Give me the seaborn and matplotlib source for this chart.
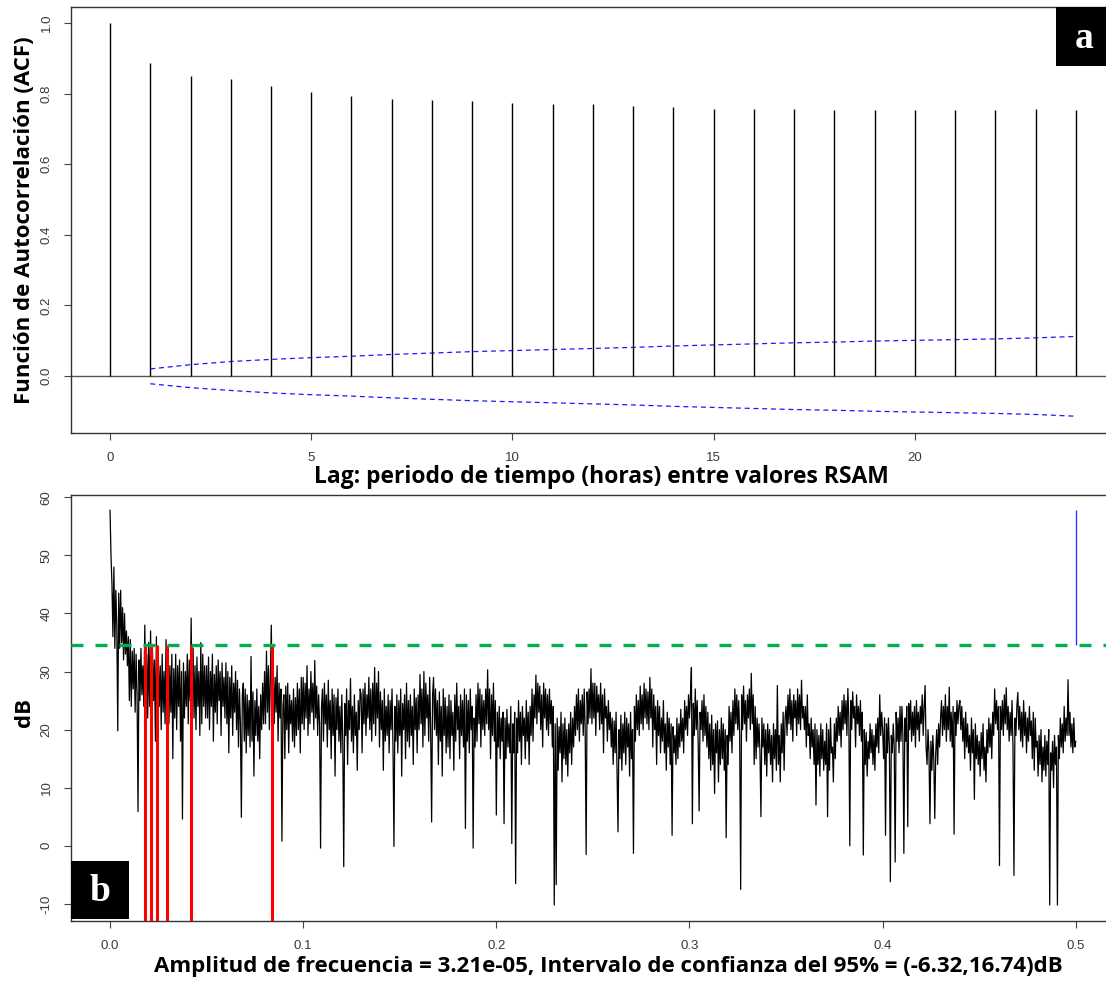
import numpy as np
import pandas as pd
import matplotlib
matplotlib.use("Agg")
import matplotlib.pyplot as plt
import seaborn as sns
from matplotlib.patches import Rectangle

# ---------------- Panel a: autocorrelation ----------------
lags = list(range(25))
acf_vals = [1.000, 0.888, 0.850, 0.840, 0.822, 0.805, 0.793, 0.786, 0.782, 0.779,
            0.773, 0.771, 0.771, 0.765, 0.762, 0.756, 0.755, 0.755, 0.754, 0.754,
            0.754, 0.754, 0.754, 0.755, 0.754]
ci_lags = list(range(1, 25))
ci_upper = [0.020, 0.032, 0.041, 0.047, 0.052, 0.056, 0.061, 0.065, 0.069, 0.072,
            0.075, 0.078, 0.081, 0.085, 0.088, 0.091, 0.094, 0.096, 0.099, 0.101,
            0.103, 0.105, 0.108, 0.112]
ci_lower = [-0.022, -0.033, -0.041, -0.048, -0.053, -0.057, -0.062, -0.066, -0.070, -0.073,
            -0.076, -0.079, -0.082, -0.086, -0.089, -0.092, -0.095, -0.097, -0.100, -0.102,
            -0.104, -0.106, -0.109, -0.114]
acf_xticks = [0, 5, 10, 15, 20]
acf_yticks = [0.0, 0.2, 0.4, 0.6, 0.8, 1.0]
acf_yticklabels = ["0.0", "0.2", "0.4", "0.6", "0.8", "1.0"]

# ---------------- Panel b: spectrum (dB), one value every 0.0005 ----------------
spec_0_01 = [
    57.8, 50.0, 45.0, 36.0, 48.0, 34.0, 44.0, 38.0, 19.8, 43.5, 34.0, 44.0, 35.0, 41.0, 32.0, 40.0, 33.0, 37.0, 31.0, 36.0,
    25.0, 35.5, 24.0, 33.5, 27.0, 34.0, 23.0, 33.0, 26.0, 5.9, 32.0, 25.0, 34.0, 26.0, 31.0, 24.0, 38.0, 27.0, 33.0, 22.0,
    35.0, 24.0, 37.0, 21.0, 33.5, 25.0, 32.0, 18.0, 36.0, 17.0, 32.0, 24.0, 31.0, 20.0, 33.0, 23.0, 30.0, 21.0, 35.5, 22.0,
    32.5, 21.0, 31.0, 23.0, 33.0, 15.0, 30.5, 22.0, 33.0, 20.0, 31.0, 24.0, 32.0, 18.0, 30.0, 4.6, 31.5, 22.0, 30.0, 24.0,
    33.0, 21.0, 32.0, 25.0, 39.2, 23.0, 34.0, 22.0, 31.0, 20.0, 32.5, 24.0, 30.0, 19.0, 35.0, 21.0, 33.0, 24.0, 31.0, 22.0,
    31.0, 22.0, 32.5, 20.0, 30.0, 24.0, 33.0, 18.0, 29.5, 23.0, 31.0, 21.0, 32.0, 25.0, 30.0, 19.0, 31.5, 24.0, 29.0, 22.0,
    31.5, 21.0, 30.0, 16.0, 29.0, 22.0, 31.0, 19.0, 28.0, 23.0, 30.0, 20.0, 28.5, 17.0, 27.0, 21.0, 4.9, 26.0, 28.0, 18.0,
    27.0, 16.0, 26.0, 19.0, 25.0, 17.0, 32.6, 18.0, 26.5, 12.0, 25.0, 19.0, 27.0, 18.0, 24.0, 15.0, 26.0, 20.0, 28.0, 21.0,
    30.0, 21.0, 33.5, 23.0, 31.0, 20.0, 29.0, 38.0, 24.0, 30.5, 21.0, 29.0, 23.0, 31.0, 18.0, 28.0, 22.0, 27.0, 0.8, 24.0,
    26.0, 15.0, 27.5, 20.0, 28.0, 16.0, 26.0, 21.0, 25.0, 18.0, 27.0, 17.0, 25.5, 19.0, 28.0, 20.0, 27.0, 16.0, 29.0, 21.0,
]
spec_01_02 = [
    29.0, 20.0, 28.0, 22.0, 31.0, 19.0, 27.0, 21.0, 30.0, 23.0, 28.0, 20.0, 31.9, 22.0, 27.5, 19.0, 26.0, 21.0, -0.4, 24.0,
    27.0, 18.0, 28.0, 21.0, 26.0, 17.0, 28.5, 20.0, 25.0, 15.0, 27.0, 19.0, 26.0, 12.0, 25.5, 20.0, 27.0, 18.0, 24.0, 16.0,
    26.0, 18.0, -3.6, 24.5, 19.0, 27.0, 14.0, 25.0, 20.0, 28.8, 18.0, 24.0, 16.0, 26.0, 19.0, 23.0, 13.0, 25.0, 20.0, 27.0,
    26.0, 16.0, 27.0, 21.0, 28.0, 19.0, 26.0, 22.0, 29.0, 20.0, 27.0, 18.0, 28.0, 21.0, 30.7, 19.0, 28.0, 22.0, 30.0, 17.0,
    26.5, 20.0, 25.0, 13.0, 27.0, 18.0, 24.0, 19.0, 26.0, 16.0, 25.0, 20.0, 27.0, 17.0, -0.1, 24.0, 18.0, 26.0, 16.0, 25.0,
    19.0, 27.0, 12.0, 24.5, 20.0, 26.0, 15.0, 28.0, 18.0, 25.0, 17.0, 26.0, 19.0, 24.0, 14.0, 27.0, 20.0, 25.5, 16.0, 26.0,
    20.0, 29.5, 21.0, 27.0, 17.0, 30.0, 19.0, 28.0, 22.0, 26.0, 18.0, 29.0, 20.0, 4.1, 26.0, 29.0, 20.0, 27.0, 19.0, 25.0,
    14.0, 26.5, 18.0, 24.0, 12.0, 27.0, 19.0, 25.5, 16.0, 24.0, 17.0, 26.0, 15.0, 25.0, 19.0, 23.0, 13.0, 26.0, 18.0, 28.0,
    20.0, 24.0, 15.0, 26.0, 19.0, 25.0, 17.0, 27.0, 3.0, 26.0, 18.0, 25.0, 16.0, 27.0, 20.0, 24.0, -0.4, 22.0, 17.0, 26.0,
    18.0, 28.0, 21.0, 27.0, 17.0, 26.0, 20.0, 25.0, 19.0, 27.0, 21.0, 30.3, 20.0, 27.0, 15.0, 26.0, 19.0, 28.0, 18.0, 25.0,
]
spec_02_03 = [
    5.3, 23.0, 17.0, 24.0, 15.0, 22.0, 18.0, 23.0, 3.8, 22.0, 15.0, 23.5, 17.0, 21.0, 16.0, 24.0, 0.4, 21.0, 16.0, 23.0,
    -6.5, 22.0, 16.0, 25.0, 18.0, 23.0, 14.0, 24.0, 19.0, 22.0, 15.0, 25.0, 18.0, 23.0, 14.0, 24.0, 19.0, 27.0, 18.0, 26.0,
    22.0, 29.4, 21.0, 28.0, 23.0, 27.5, 20.0, 26.0, 17.0, 28.0, 22.0, 27.0, 20.0, 26.0, 19.0, 27.0, 21.0, 25.0, 17.0, 24.0,
    -10.2, 21.0, -6.7, 22.0, 13.0, 20.5, 16.0, 23.0, 11.0, 21.0, 15.0, 22.0, 14.0, 20.0, 12.0, 21.0, 16.0, 23.0, 14.0, 22.0,
    17.0, 24.0, 19.0, 26.0, 20.0, 27.0, 18.0, 25.0, 21.0, 26.0, 19.0, 27.0, 20.0, -1.5, 26.5, 21.0, 27.0, 22.0, 30.5, 21.0,
    28.0, 22.0, 28.0, 19.0, 27.5, 23.0, 26.0, 20.0, 28.0, 21.0, 26.0, 16.0, 27.0, 22.0, 24.0, 18.0, 25.0, 20.0, 23.0, 17.0,
    22.0, 14.0, 21.5, 16.0, 23.0, 13.0, 2.4, 20.0, 15.0, 22.5, 13.0, 21.0, 16.0, 23.0, 14.0, 22.0, 17.0, 21.0, 12.0, 23.0,
    15.0, 20.0, -1.3, 24.0, 18.0, 26.0, 20.0, 25.0, 19.0, 27.5, 21.0, 26.0, 20.0, 28.0, 22.0, 27.0, 21.0, 26.5, 20.0, 29.0,
    22.0, 27.0, 17.0, 26.0, 20.0, 24.0, 14.0, 25.0, 19.0, 24.0, 16.0, 22.0, 18.0, 25.0, 16.0, 21.0, 13.0, 23.0, 17.0, 22.0,
    14.0, 21.0, 1.8, 20.5, 16.0, 19.0, 14.0, 22.0, 15.0, 21.0, 17.0, 23.5, 18.0, 22.0, 16.0, 25.0, 20.0, 24.0, 19.0, 26.0,
]
spec_03_04 = [
    22.0, 26.0, 30.7, 3.8, 24.5, 19.0, 27.0, 20.0, 25.0, 18.0, 6.0, 23.0, 20.0, 25.0, 18.0, 26.0, 19.0, 24.0, 17.0, 23.0,
    15.0, 21.0, 13.0, 22.5, 14.0, 20.0, 9.0, 21.0, 16.0, 21.5, 11.0, 20.0, 14.0, 22.0, 15.0, 21.0, 13.0, 20.0, 1.4, 19.0,
    14.0, 24.0, 18.0, 23.0, 16.0, 25.0, 19.0, 27.0, 21.0, 26.0, 20.0, 25.0, 19.0, -7.5, 26.0, 20.0, 27.5, 21.0, 25.0, 18.0,
    26.0, 22.0, 27.0, 20.0, 29.7, 21.0, 26.0, 14.0, 24.0, 15.0, 22.0, 17.0, 21.0, 16.0, 5.0, 22.0, 17.0, 21.0, 14.0, 20.0,
    12.0, 21.0, 16.0, 20.0, 14.0, 19.0, 11.0, 21.0, 15.0, 20.0, 13.0, 27.6, 14.0, 19.0, 11.0, 21.0, 16.0, 23.0, 13.0, 22.0,
    24.0, 19.0, 26.0, 21.0, 27.0, 20.0, 25.0, 18.0, 26.0, 22.0, 25.0, 19.0, 27.0, 21.0, 26.0, 20.0, 28.5, 22.0, 24.0, 20.0,
    24.0, 17.0, 26.0, 19.0, 21.0, 15.0, 22.0, 17.0, 20.0, 14.0, 21.0, 7.0, 20.0, 14.0, 19.0, 12.0, 21.0, 15.0, 20.0, 13.0,
    18.0, 14.0, 21.0, 5.0, 20.0, 13.0, 22.0, 16.0, 17.0, 11.0, 21.0, 15.0, 22.0, 18.0, 24.0, 19.0, 23.0, 17.0, 25.0, 20.0,
    26.0, 21.0, 25.0, 19.0, 27.1, 22.0, 0.0, 25.0, 20.0, 26.5, 22.0, 24.0, 17.0, 26.0, 21.0, 24.0, 19.0, 25.0, 18.0, 23.0,
    -1.6, 20.0, 14.0, 19.5, 12.0, 18.0, 15.0, 21.0, 16.0, 20.0, 14.0, 19.0, 13.0, 21.0, 17.0, 22.0, 16.0, 26.0, 19.0, 23.0,
]
spec_04_05 = [
    20.0, 15.0, 22.0, 1.8, 21.0, 16.0, 22.0, 17.0, -6.2, 19.0, 16.0, 21.0, 17.0, -2.8, 23.0, 18.0, 22.0, 16.0, 24.0, 18.0,
    24.0, 19.0, -1.3, 22.0, 18.0, 24.0, 3.3, 24.5, 20.0, 25.0, 18.0, 23.0, 19.0, 24.0, 17.0, 25.0, 20.0, 23.0, 18.0, 24.0,
    21.0, 26.0, 19.0, 24.0, 27.6, 17.0, 14.0, 20.0, 16.0, 3.8, 18.0, 13.0, 19.0, 15.0, 4.7, 16.0, 20.0, 14.0, 21.0, 17.0,
    22.0, 25.0, 19.0, 24.0, 20.0, 26.0, 18.0, 24.0, 20.0, 27.3, 18.0, 23.0, 17.0, 24.0, 2.0, 23.0, 19.0, 25.0, 21.0, 24.0,
    25.0, 20.0, 24.0, 18.0, 22.0, 15.0, 23.0, 17.0, 21.0, 16.0, 19.0, 13.0, 22.0, 16.0, 20.0, 8.0, 21.0, 15.0, 19.0, 14.0,
    18.0, 12.0, 19.5, 15.0, 21.0, 13.0, 17.0, 11.0, 20.0, 16.0, 22.0, 17.0, 21.0, 15.0, 23.0, 19.0, 27.0, 21.0, 25.0, 20.0,
    24.0, -3.4, 24.0, 20.0, 25.0, 19.0, 26.0, 21.0, 27.2, 20.0, 24.0, 18.0, 23.0, 19.0, 25.0, 17.0, -5.1, 22.0, 19.0, 24.0,
    26.4, 20.0, 24.0, 18.0, 23.0, 17.0, 25.0, 19.0, 23.0, 16.0, 22.0, 18.0, 24.0, 19.0, 21.5, 15.0, 23.0, 13.0, 22.0, 17.0,
    18.0, 12.0, 19.0, 14.0, 20.0, 11.0, 17.0, 13.0, 19.0, 12.0, 18.0, 14.0, 20.0, -10.2, 16.0, 13.0, 18.0, 10.0, 19.0, 14.0,
    17.0, -10.2, 19.0, 15.0, 22.0, 17.0, 21.0, 16.0, 24.0, 18.0, 22.0, 19.0, 28.6, 19.0, 23.0, 17.0, 21.0, 16.0, 22.0, 17.0,
    18.0,
]
spec_db = spec_0_01 + spec_01_02 + spec_02_03 + spec_03_04 + spec_04_05
freqs = np.linspace(0.0, 0.5, len(spec_db))

sig_level = 34.6
red_freqs = [0.0183, 0.0213, 0.0242, 0.0295, 0.0418, 0.0836]
nyq_freq = 0.5
nyq_peak = 57.8
spec_xticks = [0.0, 0.1, 0.2, 0.3, 0.4, 0.5]
spec_xticklabels = ["0.0", "0.1", "0.2", "0.3", "0.4", "0.5"]
spec_yticks = [-10, 0, 10, 20, 30, 40, 50, 60]

# ---------------- Figure ----------------
sns.set_style("white")
plt.rcParams["font.family"] = ["Liberation Sans", "DejaVu Sans"]

W, H = 1106, 988
fig = plt.figure(figsize=(W / 100, H / 100), dpi=100)
ax_left = 71.4 / W
ax_w = 1043 / W
axa = fig.add_axes([ax_left, 1 - 433 / H, ax_w, 426 / H])
axb = fig.add_axes([ax_left, 1 - 921 / H, ax_w, 426 / H])

label_family = ["Open Sans", "DejaVu Sans"]
tick_color = "#3a3a3a"

# Panel a
axa.vlines(lags, 0, acf_vals, color="black", lw=1.0, zorder=3)
axa.axhline(0, color="#555555", lw=1.0, zorder=2)
ci_df = pd.DataFrame({"lag": ci_lags, "upper": ci_upper, "lower": ci_lower})
sns.lineplot(data=ci_df, x="lag", y="upper", ax=axa, color="#1a1aff", lw=0.9,
             linestyle=(0, (4, 3)), estimator=None, sort=False)
sns.lineplot(data=ci_df, x="lag", y="lower", ax=axa, color="#1a1aff", lw=0.9,
             linestyle=(0, (4, 3)), estimator=None, sort=False)
axa.set_xlim(-0.96, 24.96)
axa.set_ylim(-0.1615, 1.0453)
axa.set_xticks(acf_xticks)
axa.set_xticklabels([str(t) for t in acf_xticks])
axa.set_yticks(acf_yticks)
axa.set_yticklabels(acf_yticklabels, rotation=90, va="center")
axa.set_xlabel("Lag: periodo de tiempo (horas) entre valores RSAM",
               family=label_family, fontweight="bold", fontsize=16.5, color="black")
axa.set_ylabel("Función de Autocorrelación (ACF)",
               family=label_family, fontweight="bold", fontsize=16, color="black")
axa.yaxis.set_label_coords(-0.035, 0.5)
axa.xaxis.set_label_coords(0.5078, -0.076)

# Panel b
spec_df = pd.DataFrame({"freq": freqs, "db": spec_db})
sns.lineplot(data=spec_df, x="freq", y="db", ax=axb, color="black", lw=0.9,
             estimator=None, sort=False, zorder=2)
ylo, yhi = -12.95, 60.40
axb.axhline(sig_level, color="#00B050", lw=2.4, linestyle=(0, (3.6, 3.6)), zorder=4)
axb.vlines(red_freqs, ylo, sig_level, color="#FF0000", lw=2.2, zorder=3)
axb.vlines([nyq_freq], sig_level, nyq_peak, color="#3333FF", lw=1.0, zorder=3)
axb.set_xlim(-0.02, 0.52)
axb.set_ylim(ylo, yhi)
axb.set_xticks(spec_xticks)
axb.set_xticklabels(spec_xticklabels)
axb.set_yticks(spec_yticks)
axb.set_yticklabels([str(t) for t in spec_yticks], rotation=90, va="center")
axb.set_xlabel("Amplitud de frecuencia = 3.21e-05, Intervalo de confianza del 95% = (-6.32,16.74)dB",
               family=label_family, fontweight="bold", fontsize=16, color="black")
axb.set_ylabel("dB", family=label_family, fontweight="bold", fontsize=16, color="black")
axb.yaxis.set_label_coords(-0.035, 0.49)
axb.xaxis.set_label_coords(0.5145, -0.081)

for ax in (axa, axb):
    for sp in ax.spines.values():
        sp.set_color("#333333")
        sp.set_linewidth(1.0)
        sp.set_visible(True)
    ax.tick_params(axis="both", which="major", direction="out", length=5, width=0.8,
                   color="#444444", labelsize=9.5, labelcolor=tick_color, pad=8.5,
                   bottom=True, left=True)
    ax.grid(False)

# panel tags
fig.patches.append(Rectangle((1056 / W, 1 - 65.5 / H), 52 / W, 58.5 / H,
                             transform=fig.transFigure, facecolor="black", edgecolor="none", zorder=10))
fig.text(1084 / W, 1 - 38 / H, "a", color="white", fontweight="bold",
         family=["Liberation Serif", "DejaVu Serif"], fontsize=27, ha="center", va="center", zorder=11)
fig.patches.append(Rectangle((71 / W, 1 - 919 / H), 58 / W, 58 / H,
                             transform=fig.transFigure, facecolor="black", edgecolor="none", zorder=10))
fig.text(100 / W, 1 - 891 / H, "b", color="white", fontweight="bold",
         family=["Liberation Serif", "DejaVu Serif"], fontsize=27, ha="center", va="center", zorder=11)

fig.savefig("out.png", dpi=100)
